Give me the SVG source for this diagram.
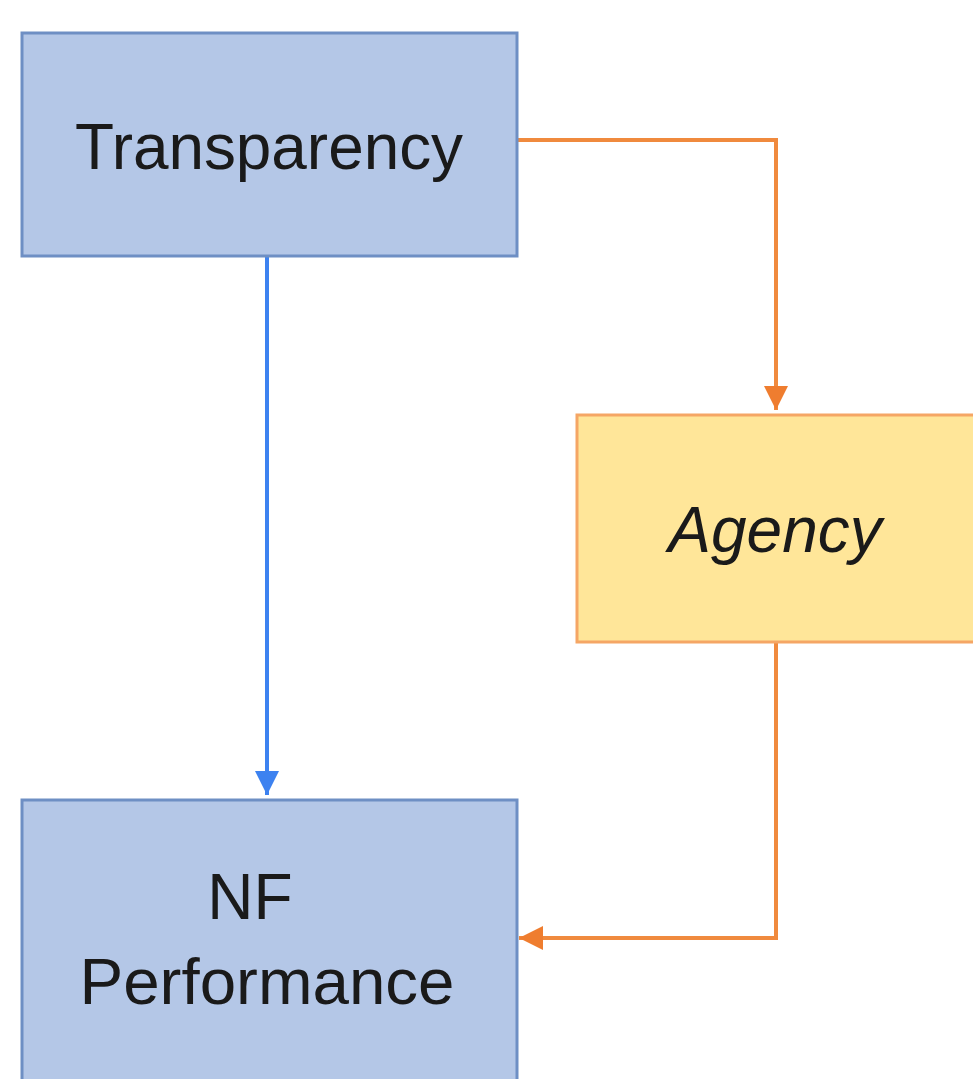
<svg xmlns="http://www.w3.org/2000/svg" width="973" height="1079" viewBox="0 0 973 1079">
<defs>
<style>
.box{stroke-width:3}
.blue{fill:#B4C7E7;stroke:#6E8FC4}
.yel{fill:#FFE699;stroke:#F5A665}
.t{font-family:"Liberation Sans",Arial,sans-serif;font-size:64px;fill:#1a1a1a;text-anchor:middle}
.c{fill:none;stroke-width:4}
</style>
<marker id="ab" viewBox="0 0 10 10" refX="10" refY="5" markerWidth="6" markerHeight="6" markerUnits="strokeWidth" orient="auto"><path d="M0,0 L10,5 L0,10 z" fill="#3D82F0"/></marker>
<marker id="ao" viewBox="0 0 10 10" refX="10" refY="5" markerWidth="6" markerHeight="6" markerUnits="strokeWidth" orient="auto"><path d="M0,0 L10,5 L0,10 z" fill="#EF7D2F"/></marker>
</defs>
<rect width="973" height="1079" fill="#ffffff"/>
<g id="connectors">
<path class="c" d="M267,256 L267,795" stroke="#3D82F0" marker-end="url(#ab)"/>
<path class="c" d="M517,140 L776,140 L776,410" stroke="#F08A3E" marker-end="url(#ao)"/>
<path class="c" d="M776,642 L776,938 L519,938" stroke="#F08A3E" marker-end="url(#ao)"/>
</g>
<g id="transparency">
<rect class="box blue" x="22" y="33" width="495" height="223"/>
<text class="t" x="269" y="169" textLength="388" lengthAdjust="spacingAndGlyphs">Transparency</text>
</g>
<g id="agency">
<rect class="box yel" x="577" y="415" width="400" height="227"/>
<text class="t" x="775" y="552" font-style="italic">Agency</text>
</g>
<g id="nf-performance">
<rect class="box blue" x="22" y="800" width="495" height="285"/>
<text class="t" x="250" y="919">NF</text>
<text class="t" x="267" y="1004" textLength="375" lengthAdjust="spacingAndGlyphs">Performance</text>
</g>
</svg>
